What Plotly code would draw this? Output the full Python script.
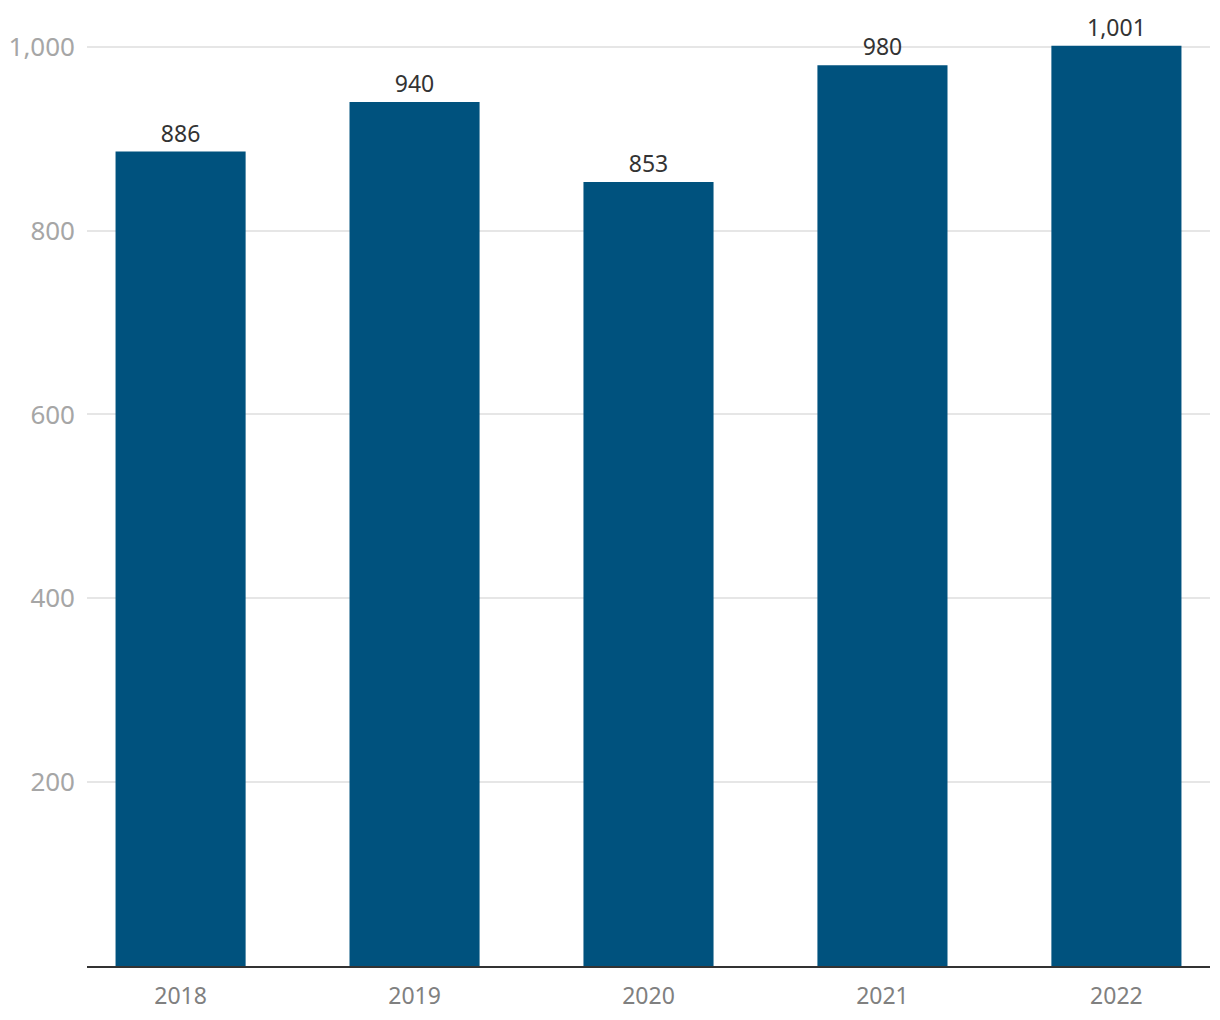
import plotly.graph_objects as go

years = ["2018", "2019", "2020", "2021", "2022"]
values = [886, 940, 853, 980, 1001]
value_labels = ["886", "940", "853", "980", "1,001"]
y_ticks = [200, 400, 600, 800, 1000]
y_tick_labels = ["200", "400", "600", "800", "1,000"]

fig = go.Figure(go.Bar(
    x=years, y=values,
    width=0.556,
    marker=dict(color="#00527E", line=dict(width=0)),
    text=value_labels,
    textposition="outside",
    cliponaxis=False,
    textfont=dict(size=23, color="#333333", family="Noto Sans"),
))

fig.update_layout(
    width=1220, height=1020,
    margin=dict(l=87, r=10, t=10, b=54),
    paper_bgcolor="white", plot_bgcolor="white",
    font=dict(family="Noto Sans"),
    showlegend=False,
    uniformtext=dict(mode=False),
    xaxis=dict(
        type="category", range=[-0.4, 4.4],
        showline=True, linecolor="#333333", linewidth=2,
        showgrid=False, ticks="",
        tickfont=dict(size=23, color="#808080"),
        ticklabelstandoff=8,
    ),
    yaxis=dict(
        range=[0, 1040],
        tickvals=y_ticks, ticktext=y_tick_labels,
        showgrid=True, gridcolor="#E6E6E6", gridwidth=2,
        zeroline=False, showline=False, ticks="",
        tickfont=dict(size=26, color="#A6A6A6"),
        ticklabelstandoff=11,
    ),
)

fig.write_html("out.html")
